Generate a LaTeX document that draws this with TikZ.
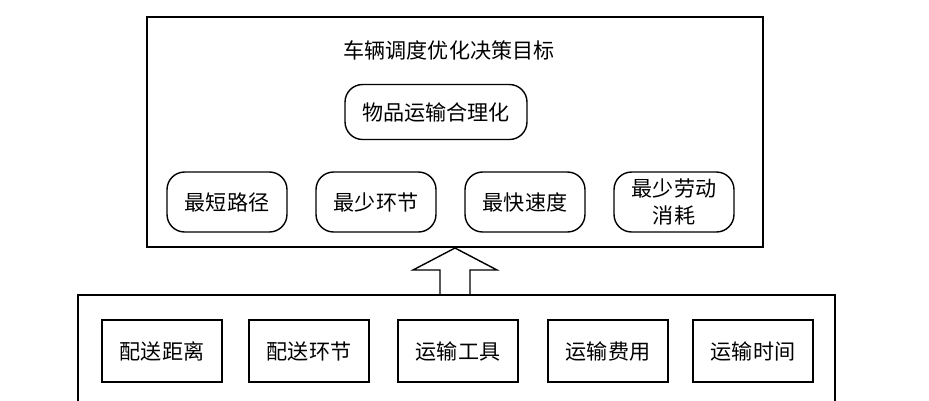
\documentclass[tikz,border=0pt]{standalone}
\usepackage{fontspec}
\newfontfamily\cjk{Noto Sans CJK SC}
\usetikzlibrary{positioning}

\begin{document}
\begin{tikzpicture}[
        x=0.02cm, y=-0.02cm,
        every node/.style={font=\cjk\fontsize{12}{15}\selectfont, inner sep=0},
        goal/.style={draw, thick, rounded corners=10pt, minimum width=2.4cm, minimum height=1.2cm, align=center}, % 目标
        factor/.style={draw, thick, minimum width=2.4cm, minimum height=1.24cm} % 因素
    ]
    \useasboundingbox (0,0) rectangle (929,400);

    % 上方目标框
    \node[draw, thick, minimum width=12.32cm, minimum height=4.6cm] (top) at (455,132) {};
    \node (title) at (449,50) {车辆调度优化决策目标};
    \node[goal, minimum width=3.64cm, minimum height=1.1cm] (main) at (436,112) {物品运输合理化};
    \node[goal] (g1) at (227,202) {最短路径};
    \node[goal] (g2) at (376,202) {最少环节};
    \node[goal] (g3) at (525,202) {最快速度};
    \node[goal] (g4) at (674,202) {最少劳动\\消耗};

    % 空心箭头
    \draw[thick, fill=white] (440,295) -- (440,270) -- (413,270) -- (455,248)
        -- (497,270) -- (470,270) -- (470,295);

    % 下方因素框
    \coordinate (bl) at (78,402);
    \coordinate (br) at (835,402);
    \draw[thick] (bl) |- (455,295) -| (br);
    \node[factor] (f1) at (162,351) {配送距离};
    \node[factor] (f2) at (309,351) {配送环节};
    \node[factor] (f3) at (458,351) {运输工具};
    \node[factor] (f4) at (608,351) {运输费用};
    \node[factor] (f5) at (753,351) {运输时间};
\end{tikzpicture}
\end{document}
